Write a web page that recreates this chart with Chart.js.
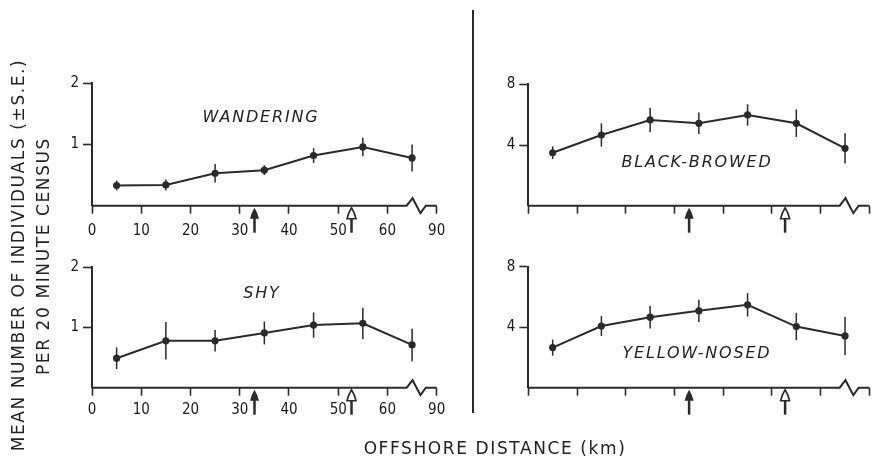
<!DOCTYPE html>
<html><head><meta charset="utf-8">
<script src="https://cdn.jsdelivr.net/npm/chart.js@4"></script>
<style>
html,body{margin:0;padding:0;background:#fff}
#page{position:relative;width:873px;height:458px;overflow:hidden;background:#fff;font-family:"DejaVu Sans",sans-serif;color:#222}
#page canvas{position:absolute;left:0;top:0}
.t{position:absolute;white-space:nowrap;transform:translate(-50%,-50%);line-height:1}
.panel{font-style:italic;font-size:16px;letter-spacing:1.8px}
.axis{font-size:17px;letter-spacing:1.6px}
.rot{transform:translate(-50%,-50%) rotate(-90deg)}
#divider{position:absolute;left:472px;top:10px;width:2px;height:403px;background:#2a2a2a}
</style></head><body>
<div id="page">
  <canvas id="cTL" width="873" height="458"></canvas>
  <canvas id="cTR" width="873" height="458"></canvas>
  <canvas id="cBL" width="873" height="458"></canvas>
  <canvas id="cBR" width="873" height="458"></canvas>
  <div id="divider"></div>
  <div class="t panel" style="left:261px;top:117px">WANDERING</div>
  <div class="t panel" style="left:697px;top:162px">BLACK-BROWED</div>
  <div class="t panel" style="left:262px;top:293px">SHY</div>
  <div class="t panel" style="left:697px;top:353px">YELLOW-NOSED</div>
  <div class="t axis" style="left:495px;top:448px">OFFSHORE DISTANCE (km)</div>
  <div class="t axis rot" style="left:18px;top:255px">MEAN NUMBER OF INDIVIDUALS (±S.E.)</div>
  <div class="t axis rot" style="left:43px;top:256px">PER 20 MINUTE CENSUS</div>
</div>
<script>
// ---- data ----
const distances = [5, 15, 25, 35, 45, 55, 65];
const xTickLabels = ['0', '10', '20', '30', '40', '50', '60', '90'];
const wanderingMean = [0.33, 0.34, 0.53, 0.58, 0.82, 0.96, 0.78];
const wanderingSE   = [0.08, 0.09, 0.15, 0.08, 0.12, 0.15, 0.22];
const shyMean = [0.49, 0.78, 0.78, 0.91, 1.04, 1.07, 0.71];
const shySE   = [0.18, 0.31, 0.18, 0.19, 0.21, 0.26, 0.27];
const blackBrowedMean = [3.49, 4.66, 5.65, 5.43, 5.98, 5.43, 3.78];
const blackBrowedSE   = [0.42, 0.77, 0.81, 0.71, 0.71, 0.91, 1.00];
const yellowNosedMean = [2.65, 4.08, 4.66, 5.08, 5.48, 4.04, 3.42];
const yellowNosedSE   = [0.53, 0.66, 0.75, 0.74, 0.77, 0.90, 1.25];
const smallYTicks = [0, 1, 2];
const largeYTicks = [0, 4, 8];
const arrowFilledAt = [33];
const arrowOpenAt = [52.7];

const INK = '#2a2a2a';
const TICK_FONT = {family: '"DejaVu Sans Condensed", "DejaVu Sans", sans-serif', size: 15};

const panelPlugin = {
  id: 'panelExtras',
  beforeDatasetsDraw(chart) {
    const ctx = chart.ctx, xs = chart.scales.x, ys = chart.scales.y;
    chart.data.datasets.forEach(ds => {
      ctx.save();
      ctx.strokeStyle = INK; ctx.lineWidth = 1.5;
      ds.data.forEach((p, i) => {
        const se = ds.se[i];
        const px = xs.getPixelForValue(p.x);
        ctx.beginPath();
        ctx.moveTo(px, ys.getPixelForValue(p.y - se));
        ctx.lineTo(px, ys.getPixelForValue(p.y + se));
        ctx.stroke();
      });
      ctx.restore();
    });
  },
  afterDraw(chart) {
    const ctx = chart.ctx, xs = chart.scales.x, ys = chart.scales.y;
    const y0 = ys.getPixelForValue(0);
    const X = v => xs.getPixelForValue(v);
    ctx.save();
    ctx.strokeStyle = INK; ctx.lineWidth = 2; ctx.lineJoin = 'miter';
    ctx.beginPath();
    ctx.moveTo(X(0), y0);
    ctx.lineTo(X(63.9), y0);
    ctx.lineTo(X(65.1), y0 - 7.5);
    ctx.lineTo(X(66.7), y0 + 7.5);
    ctx.lineTo(X(67.8), y0);
    ctx.lineTo(X(70), y0);
    ctx.stroke();
    const drawArrow = (v, filled) => {
      const px = X(v);
      const tip = y0 + 2, headB = y0 + 13, end = y0 + 27, hw = 4.5;
      ctx.lineWidth = 2.5;
      ctx.beginPath();
      ctx.moveTo(px, headB - 1);
      ctx.lineTo(px, end);
      ctx.stroke();
      ctx.beginPath();
      ctx.moveTo(px, tip);
      ctx.quadraticCurveTo(px + hw * 0.7, tip + 5, px + hw, headB);
      ctx.lineTo(px - hw, headB);
      ctx.quadraticCurveTo(px - hw * 0.7, tip + 5, px, tip);
      ctx.closePath();
      if (filled) { ctx.fillStyle = INK; ctx.fill(); }
      else { ctx.fillStyle = '#fff'; ctx.fill(); ctx.lineWidth = 1.6; ctx.stroke(); }
    };
    chart.options.plugins.panelExtras.filled.forEach(v => drawArrow(v, true));
    chart.options.plugins.panelExtras.open.forEach(v => drawArrow(v, false));
    ctx.restore();
  }
};

function makePanel(id, means, ses, yTicks, area, showX, xPad) {
  const pts = distances.map((d, i) => ({x: d, y: means[i]}));
  return new Chart(document.getElementById(id), {
    type: 'line',
    data: {datasets: [{
      data: pts, se: ses,
      borderColor: INK, borderWidth: 2,
      pointRadius: 3.6, pointBackgroundColor: INK, pointBorderWidth: 0,
      pointHoverRadius: 3.6, tension: 0, fill: false
    }]},
    options: {
      responsive: false, animation: false, events: [],
      layout: {padding: {left: 0, top: area.top, right: 873 - area.right, bottom: 0}},
      plugins: {legend: {display: false}, tooltip: {enabled: false},
        panelExtras: {filled: arrowFilledAt, open: arrowOpenAt}},
      scales: {
        x: {
          type: 'linear', min: 0, max: 70,
          afterFit: s => { s.height = 458 - area.bottom; },
          border: {display: false},
          grid: {drawOnChartArea: false, drawTicks: true, tickLength: 8, tickWidth: 1.6, tickColor: INK, color: INK},
          ticks: {
            display: showX, stepSize: 10, autoSkip: false, maxRotation: 0, padding: xPad,
            color: '#1a1a1a', font: TICK_FONT,
            callback: v => xTickLabels[Math.round(v / 10)]
          }
        },
        y: {
          min: yTicks[0], max: yTicks[yTicks.length - 1],
          afterFit: s => { s.width = area.left; },
          afterBuildTicks: s => { s.ticks = yTicks.map(v => ({value: v})); },
          border: {display: true, color: INK, width: 2},
          grid: {drawOnChartArea: false, drawTicks: true, tickLength: 9, tickWidth: 1.6,
            tickColor: c => (c.tick && c.tick.value === 0) ? 'rgba(0,0,0,0)' : INK},
          ticks: {padding: 4, color: '#1a1a1a', font: TICK_FONT,
            callback: v => v === 0 ? '' : String(v)}
        }
      }
    },
    plugins: [panelPlugin]
  });
}

makePanel('cTL', wanderingMean, wanderingSE, smallYTicks, {left: 92, right: 436.7, top: 83.3, bottom: 205.7}, true, 8);
makePanel('cTR', blackBrowedMean, blackBrowedSE, largeYTicks, {left: 528.3, right: 872, top: 84.3, bottom: 205.7}, false, 6);
makePanel('cBL', shyMean, shySE, smallYTicks, {left: 92, right: 436.7, top: 267.3, bottom: 387.7}, true, 5);
makePanel('cBR', yellowNosedMean, yellowNosedSE, largeYTicks, {left: 528.3, right: 872, top: 266.7, bottom: 387.7}, false, 6);
</script>
</body></html>
